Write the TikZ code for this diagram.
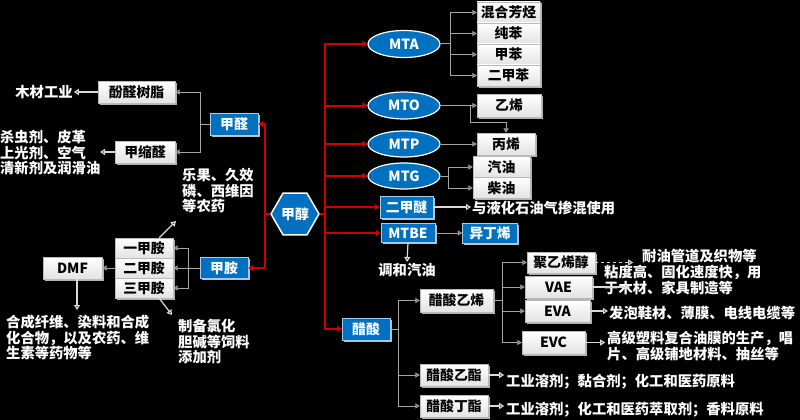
\documentclass[tikz,border=0pt]{standalone}
\usepackage{fontspec}
\setmainfont{Noto Sans CJK SC}
\usetikzlibrary{shapes.geometric,arrows.meta,shadows}
\definecolor{bblue}{RGB}{0,112,192}
\definecolor{ered}{RGB}{205,0,0}
\tikzset{
  boxfont/.style={font=\bfseries\fontsize{13.8}{15}\selectfont},
  wbox/.style={boxfont, draw=gray!55, top color=white, bottom color=gray!22, text=black, inner sep=0pt,
    drop shadow={shadow xshift=1.5pt, shadow yshift=-1.5pt, fill=gray!60, opacity=1}},
  bbox/.style={boxfont, draw=white!65!bblue, fill=bblue, text=white, inner sep=0pt,
    drop shadow={shadow xshift=1.5pt, shadow yshift=-1.5pt, fill=gray!50, opacity=1}},
  ell/.style={ellipse, draw=white, line width=1.2pt, fill=bblue, text=white, inner sep=0pt,
    font=\bfseries\fontsize{14}{16}\selectfont, minimum width=72pt, minimum height=27pt},
  lbl/.style={text=white, font=\bfseries\fontsize{14.3}{15.5}\selectfont, align=left, inner sep=1pt},
  gc/.style={draw=gray!70, line width=1pt},
  ga/.style={gc, -{Triangle[open, length=4.5pt, width=5pt]}},
  rc/.style={draw=ered, line width=2pt},
  ra/.style={rc, -{Triangle[length=5pt, width=6pt]}},
  wa/.style={draw=gray!30, line width=1.2pt, -{Triangle[open, length=5pt, width=6pt]}},
}
\begin{document}
\begin{tikzpicture}[x=1pt, y=-1pt]
\fill[black] (0,0) rectangle (800,420);
\useasboundingbox (0,0) rectangle (800,420);

% ---------- centre ----------
\node[regular polygon, regular polygon sides=6, minimum size=48pt, inner sep=0pt,
  fill=bblue, draw=white, line width=1.5pt, text=white, boxfont] (ch) at (295,214) {甲醇};

% ---------- left: formaldehyde ----------
\node[bbox, minimum width=48pt, minimum height=22pt] (jq) at (234,124) {甲醛};
\node[wbox, minimum width=77pt, minimum height=22pt] (fq) at (136.5,92) {酚醛树脂};
\node[wbox, minimum width=60pt, minimum height=22pt] (jsq) at (145,152) {甲缩醛};
\node[lbl] (mc) at (44,92) {木材工业};
\node[lbl, anchor=west] (sc) at (-1,153) {杀虫剂、皮革\\上光剂、空气\\清新剂及润滑油};

% ---------- left: methylamines ----------
\node[bbox, minimum width=48pt, minimum height=21pt] (ja) at (224,268) {甲胺};
\node[wbox, minimum width=58pt, minimum height=20pt] (ya) at (144,248) {一甲胺};
\node[wbox, minimum width=58pt, minimum height=20pt] (ea) at (144,268) {二甲胺};
\node[wbox, minimum width=58pt, minimum height=20pt] (sa) at (144,288) {三甲胺};
\node[wbox, minimum width=59pt, minimum height=22pt, font=\bfseries\fontsize{14}{16}\selectfont] (dmf) at (72.5,268) {DMF};
\node[lbl, anchor=north west] (lg) at (181,167) {乐果、久效\\磷、西维因\\等农药};
\node[lbl, anchor=north west] (sat) at (177,318) {制备氯化\\胆碱等饲料\\添加剂};
\node[lbl, anchor=north west] (dmft) at (5,314) {合成纤维、染料和合成\\化合物，以及农药、维\\生素等药物等};

% ---------- right: MTA / MTO / MTP / MTG ----------
\node[ell] (mta) at (404,44) {MTA};
\node[ell] (mto) at (404,105.5) {MTO};
\node[ell, minimum height=26pt] (mtp) at (404,144) {MTP};
\node[ell, minimum height=26pt] (mtg) at (404,176) {MTG};
\node[wbox, minimum width=63pt, minimum height=21pt] (hh) at (508.5,12.5) {混合芳烃};
\node[wbox, minimum width=63pt, minimum height=21pt] (cb) at (508.5,33.5) {纯苯};
\node[wbox, minimum width=63pt, minimum height=21pt] (jb) at (508.5,54.5) {甲苯};
\node[wbox, minimum width=63pt, minimum height=21pt] (eb) at (508.5,75.5) {二甲苯};
\node[wbox, minimum width=64pt, minimum height=23pt] (yx) at (509,105.5) {乙烯};
\node[wbox, minimum width=58pt, minimum height=22pt] (bx) at (506,144) {丙烯};
\node[wbox, minimum width=57pt, minimum height=21pt] (qy) at (501.5,167) {汽油};
\node[wbox, minimum width=57pt, minimum height=21pt] (cyo) at (501.5,188) {柴油};

% ---------- DME / MTBE ----------
\node[bbox, minimum width=53pt, minimum height=22pt] (dme) at (406.5,207) {二甲醚};
\node[lbl, anchor=west] (dmet) at (471,208) {与液化石油气掺混使用};
\node[bbox, minimum width=54pt, minimum height=19pt] (mtbe) at (408,233) {MTBE};
\node[bbox, minimum width=55pt, minimum height=20pt] (ydx) at (490,233) {异丁烯};
\node[lbl] (thqy) at (407,270) {调和汽油};

% ---------- acetic acid ----------
\node[bbox, minimum width=48pt, minimum height=22pt] (cs) at (366,329) {醋酸};
\node[wbox, minimum width=73pt, minimum height=23pt] (cyx) at (456.5,300.5) {醋酸乙烯};
\node[wbox, minimum width=68pt, minimum height=22pt] (cyz) at (454,375) {醋酸乙酯};
\node[wbox, minimum width=68pt, minimum height=22pt] (cdz) at (454,406) {醋酸丁酯};
\node[wbox, minimum width=68pt, minimum height=21pt] (pva) at (561,262.5) {聚乙烯醇};
\node[wbox, minimum width=67pt, minimum height=22pt, font=\bfseries\fontsize{14}{16}\selectfont] (vae) at (558.5,287) {VAE};
\node[wbox, minimum width=65pt, minimum height=22pt, font=\bfseries\fontsize{14}{16}\selectfont] (eva) at (557.5,311) {EVA};
\node[wbox, minimum width=63pt, minimum height=23pt, font=\bfseries\fontsize{14}{16}\selectfont] (evc) at (553.5,342.5) {EVC};
\node[lbl, anchor=west] (pvat) at (641,256) {耐油管道及织物等};
\node[lbl, anchor=west] (vaet) at (603,280) {粘度高、固化速度快，用\\于木材、家具制造等};
\node[lbl, anchor=west] (evat) at (608,313) {发泡鞋材、薄膜、电线电缆等};
\node[lbl, anchor=west] (evct) at (606,346) {高级塑料复合油膜的生产，唱\\片、高级铺地材料、抽丝等};
\node[lbl, anchor=west] (cyzt) at (505,382) {工业溶剂；黏合剂；化工和医药原料};
\node[lbl, anchor=west] (cdzt) at (505,410) {工业溶剂；化工和医药萃取剂；香料原料};

% ---------- red trunk ----------
\coordinate (tr) at (325,214);
\coordinate (tl) at (265,214);
\draw[rc] (ch.east) -- (tr);
\draw[rc] (ch.west) -- (tl);
\draw[ra] (tl) |- (jq);
\draw[ra] (tl) |- (ja);
\draw[ra] (tr) |- (mta);
\draw[ra] (tr) |- (mto);
\draw[ra] (tr) |- (mtp);
\draw[ra] (tr) |- (mtg);
\draw[ra] (tr) |- (dme);
\draw[ra] (tr) |- (mtbe);
\draw[ra] (tr) |- (cs);

% ---------- gray connectors ----------
\coordinate (bjq) at (200,124);
\draw[gc] (jq.west) -- (bjq);
\draw[ga] (bjq) |- (fq);
\draw[ga] (bjq) |- (jsq);

\coordinate (bja) at (188,268);
\draw[gc] (ja.west) -- (bja);
\draw[ga] (bja) |- (ya);
\draw[ga] (bja) |- (ea);
\draw[ga] (bja) |- (sa);
\draw[ga] (ea) -- (dmf);

\coordinate (bmta) at (450,44);
\draw[gc] (mta.east) -- (bmta);
\draw[ga] (bmta) |- (hh);
\draw[ga] (bmta) |- (cb);
\draw[ga] (bmta) |- (jb);
\draw[ga] (bmta) |- (eb);

\coordinate (bmto) at (470,105.5);
\draw[ga] (mto) -- (yx);
\draw[ga] (bmto) -- ++(0,17) -| (bx);
\draw[ga] (mtp) -- (bx);

\coordinate (bmtg) at (448,176);
\draw[gc] (mtg.east) -- (bmtg);
\draw[ga] (bmtg) |- (qy);
\draw[ga] (bmtg) |- (cyo);

\draw[ga] (mtbe) -- (ydx);

\coordinate (bcs) at (398,329);
\draw[gc] (cs.east) -- (bcs);
\draw[ga] (bcs) |- (cyx);
\draw[ga] (bcs) |- (cyz);
\draw[ga] (bcs) |- (cdz);

\coordinate (bcyx) at (502,300.5);
\draw[gc] (cyx.east) -- (bcyx);
\draw[ga] (bcyx) |- (pva);
\draw[ga] (bcyx) |- (vae);
\draw[ga] (bcyx) |- (eva);
\draw[ga] (bcyx) |- (evc);

% ---------- white arrows to labels ----------
\draw[wa] (fq.west) -- (mc.east);
\coordinate (jsqe) at (100,152);
\draw[wa] (jsq.west) -- (jsqe);
\coordinate (yae) at (176,221);
\draw[wa] (ya.north east) ++(-14,0) -- (yae);
\coordinate (sae) at (172,315);
\draw[wa] (sa.south east) ++(-14,0) -- (sae);
\coordinate (dmfe) at (77,310);
\draw[wa] (dmf.south -| dmfe) -- (dmfe);
\draw[wa] (dme.east) -- (dme.east -| dmet.west);
\draw[wa] (mtbe.south) -- (thqy.north);
\draw[wa, dashed] (pva.east) -- ++(38,0);
\draw[wa] (vae.east) -- ++(38,0);
\draw[wa] (eva.east) -- (eva.east -| evat.west);
\draw[wa] (evc.east) -- ++(20,0);
\draw[wa] (cyz.east) -- ++(16,0);
\draw[wa] (cdz.east) -- ++(16,0);
\end{tikzpicture}
\end{document}
